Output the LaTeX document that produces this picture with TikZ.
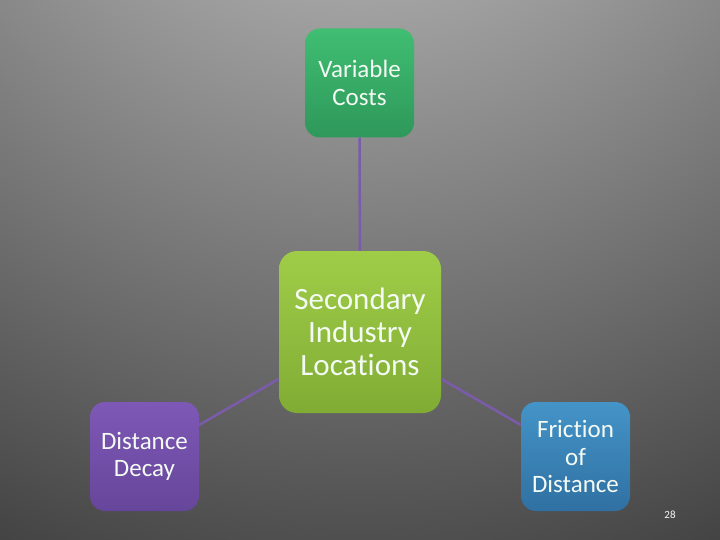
\documentclass[tikz,border=0pt]{standalone}
\usepackage{fontspec}
\setmainfont[RawFeature=-liga]{Carlito}
\definecolor{bgin}{RGB}{208,208,208}
\definecolor{bgout}{RGB}{62,62,62}
\definecolor{linec}{RGB}{122,92,170}
\definecolor{gtop}{RGB}{64,190,114}
\definecolor{gbot}{RGB}{46,152,90}
\definecolor{ctop}{RGB}{160,205,72}
\definecolor{cbot}{RGB}{128,172,52}
\definecolor{ptop}{RGB}{126,88,182}
\definecolor{pbot}{RGB}{102,70,154}
\definecolor{btop}{RGB}{68,148,200}
\definecolor{bbot}{RGB}{48,112,162}
\definecolor{txt}{RGB}{244,250,244}
\tikzset{
  smallbox/.style={rectangle, rounded corners=15pt, minimum width=109pt, minimum height=109pt,
    inner sep=0pt, align=center, text=txt, font=\fontsize{25}{27.5}\selectfont},
  bigbox/.style={rectangle, rounded corners=18pt, minimum width=162pt, minimum height=162pt,
    inner sep=0pt, align=center, text=txt, font=\fontsize{31}{33}\selectfont},
  conn/.style={draw=linec, line width=2.5pt}
}
\begin{document}
\begin{tikzpicture}[x=1pt,y=-1pt]
\useasboundingbox (0,0) rectangle (720,540);
\begin{scope}
\clip (0,0) rectangle (720,540);
\fill[inner color=bgin, outer color=bgout] (360,-300) circle (950);
\end{scope}
\node[bigbox, top color=ctop, bottom color=cbot] (center) at (360,332) {Secondary\\Industry\\Locations};
\node[smallbox, top color=gtop, bottom color=gbot] (vc) at (359.5,83) {Variable\\Costs};
\node[smallbox, top color=ptop, bottom color=pbot] (dd) at (144.5,456.5) {Distance\\Decay};
\node[smallbox, top color=btop, bottom color=bbot] (fd) at (575.5,456.5) {Friction\\of\\Distance};
\draw[conn] (vc) -- (center);
\draw[conn] (dd) -- (center);
\draw[conn] (fd) -- (center);
\node[text=txt, font=\fontsize{11}{13}\selectfont, inner sep=0pt] (pg) at (670,515) {28};
\end{tikzpicture}
\end{document}
